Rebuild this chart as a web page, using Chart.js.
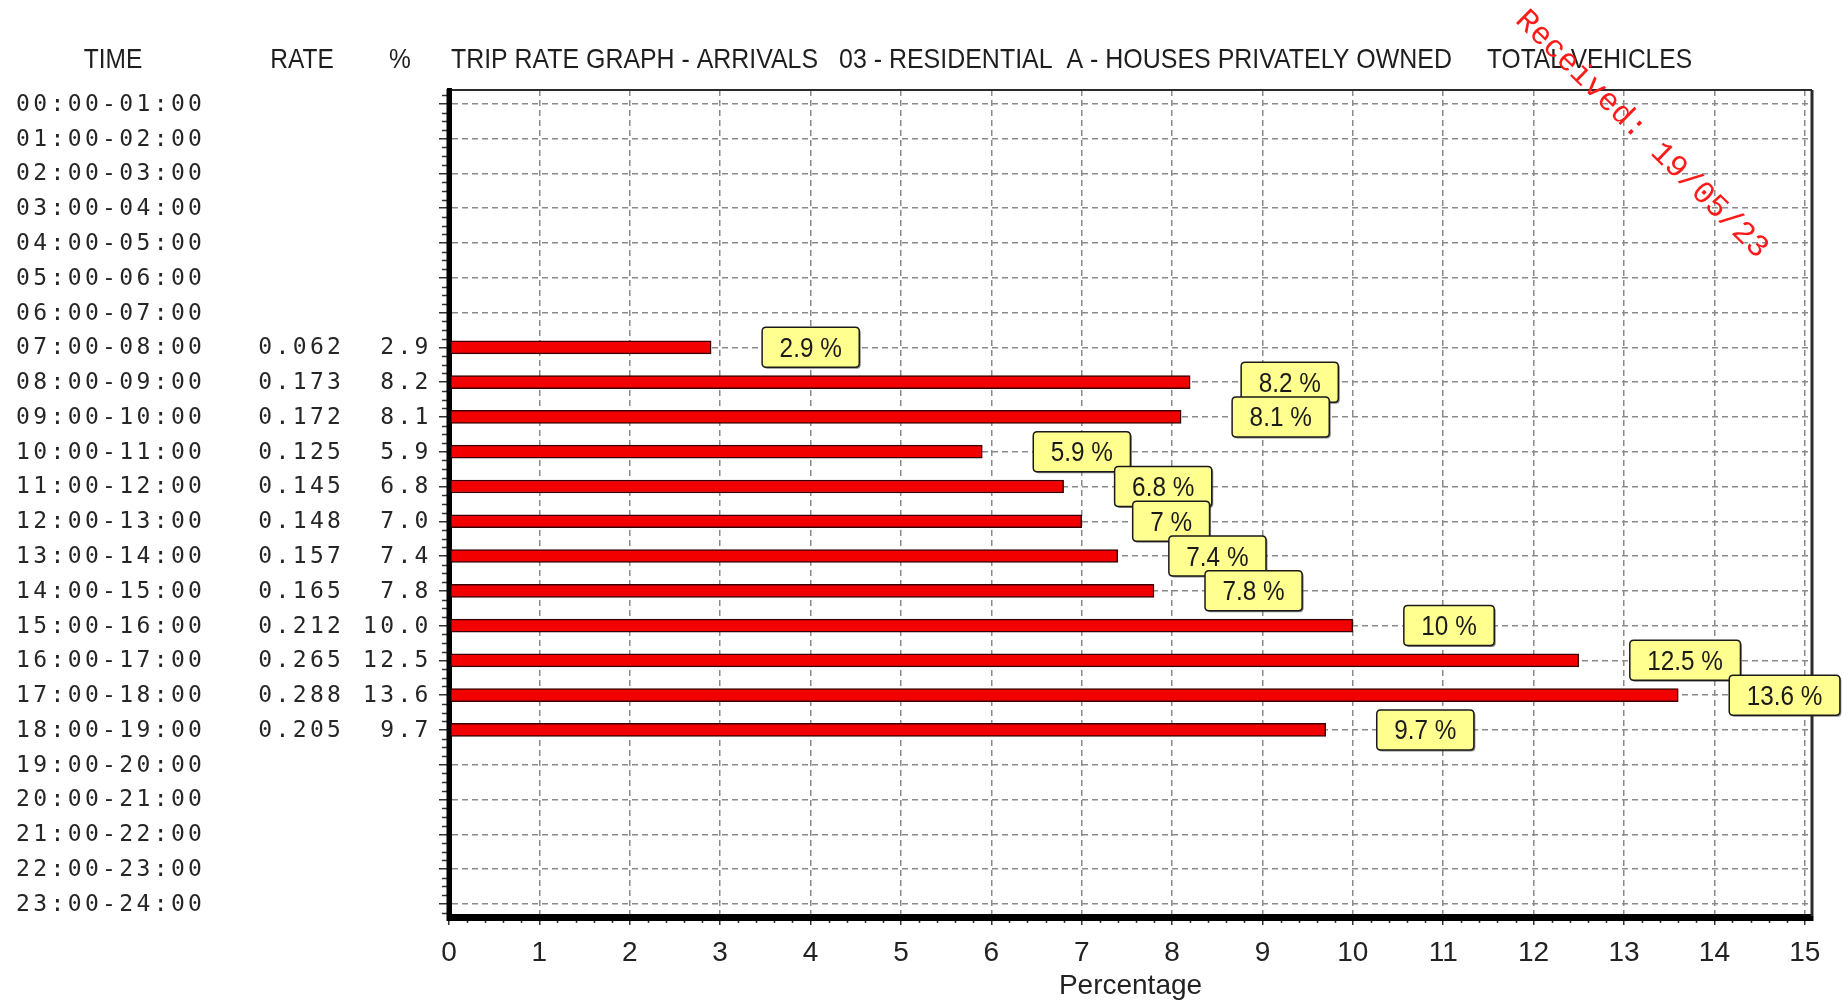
<!DOCTYPE html>
<html>
<head>
<meta charset="utf-8">
<title>Trip rate graph - arrivals</title>
<script src="https://cdn.jsdelivr.net/npm/chart.js@4/dist/chart.umd.min.js"></script>
<style>
  html, body { margin: 0; padding: 0; background: #fff; }
  canvas { display: block; }
</style>
</head>
<body>
<canvas id="chart" width="1848" height="1004"></canvas>
<script>
// Hourly time bands, one row each
const timeLabels = [
  '00:00-01:00', '01:00-02:00', '02:00-03:00', '03:00-04:00', '04:00-05:00', '05:00-06:00',
  '06:00-07:00', '07:00-08:00', '08:00-09:00', '09:00-10:00', '10:00-11:00', '11:00-12:00',
  '12:00-13:00', '13:00-14:00', '14:00-15:00', '15:00-16:00', '16:00-17:00', '17:00-18:00',
  '18:00-19:00', '19:00-20:00', '20:00-21:00', '21:00-22:00', '22:00-23:00', '23:00-24:00'
];

// Trip rate per band (null = not surveyed)
const rates = [
  null, null, null, null, null, null, null,
  0.062, 0.173, 0.172, 0.125, 0.145, 0.148, 0.157, 0.165, 0.212, 0.265, 0.288, 0.205,
  null, null, null, null, null
];

// Share of daily arrivals per band, %
const percents = [
  null, null, null, null, null, null, null,
  2.9, 8.2, 8.1, 5.9, 6.8, 7.0, 7.4, 7.8, 10.0, 12.5, 13.6, 9.7,
  null, null, null, null, null
];

// Percentage axis tick values
const percentTicks = [0, 1, 2, 3, 4, 5, 6, 7, 8, 9, 10, 11, 12, 13, 14, 15];

const titleParts = [
  'TRIP RATE GRAPH - ARRIVALS',
  '03 - RESIDENTIAL  A - HOUSES PRIVATELY OWNED',
  'TOTAL VEHICLES'
];
const columnHeads = ['TIME', 'RATE', '%'];
const axisTitle = 'Percentage';
const stampText = 'Received: 19/05/23';

// Bar points: one {x, y} per surveyed band, y being the row index
const barPoints = [];
percents.forEach((p, i) => { if (p !== null) barPoints.push({ x: p, y: i }); });

const SANS = '"Liberation Sans", Arial, sans-serif';
const NARROW = '"Liberation Sans Narrow", "Arial Narrow", "Liberation Sans", Arial, sans-serif';
const MONO = '"DejaVu Sans Mono", "Liberation Mono", monospace';
const MONO_ADVANCE = 17.2;

// Text squeezed horizontally into [x0, x1]
function fitText(ctx, text, x0, x1, y) {
  const w = ctx.measureText(text).width;
  ctx.save();
  ctx.translate(x0, y);
  ctx.scale((x1 - x0) / w, 1);
  ctx.textAlign = 'left';
  ctx.fillText(text, 0, 0);
  ctx.restore();
}

// Fixed-pitch text drawn character by character; x is the first character's centre
function monoText(ctx, text, x, y) {
  ctx.textAlign = 'center';
  for (let k = 0; k < text.length; k++) {
    ctx.fillText(text[k], x + k * MONO_ADVANCE, y);
  }
}

function roundRect(ctx, x, y, w, h, r) {
  ctx.beginPath();
  ctx.moveTo(x + r, y);
  ctx.lineTo(x + w - r, y);
  ctx.quadraticCurveTo(x + w, y, x + w, y + r);
  ctx.lineTo(x + w, y + h - r);
  ctx.quadraticCurveTo(x + w, y + h, x + w - r, y + h);
  ctx.lineTo(x + r, y + h);
  ctx.quadraticCurveTo(x, y + h, x, y + h - r);
  ctx.lineTo(x, y + r);
  ctx.quadraticCurveTo(x, y, x + r, y);
  ctx.closePath();
}

const tablePlugin = {
  id: 'tripTable',
  beforeDatasetsDraw(chart) {
    const { ctx, chartArea: a, scales } = chart;
    const xs = scales.x, ys = scales.y;
    ctx.save();
    // frame: top and right edges
    ctx.strokeStyle = '#2a2a2a';
    ctx.lineWidth = 2;
    ctx.beginPath();
    ctx.moveTo(a.left, a.top);
    ctx.lineTo(a.right, a.top);
    ctx.stroke();
    ctx.lineWidth = 3;
    ctx.beginPath();
    ctx.moveTo(a.right, a.top);
    ctx.lineTo(a.right, a.bottom);
    ctx.stroke();

    // minor tick marks
    ctx.strokeStyle = '#333';
    ctx.lineWidth = 1.5;
    ctx.beginPath();
    for (let v = -0.25; v <= 23.3; v += 0.25) {
      if (Math.abs(v - Math.round(v)) < 1e-6) continue;
      const y = Math.round(ys.getPixelForValue(v)) + 0.5;
      ctx.moveTo(a.left - 7, y);
      ctx.lineTo(a.left - 2, y);
    }
    for (let v = 0.2; v < 15.01; v += 0.2) {
      if (Math.abs(v - Math.round(v)) < 1e-6) continue;
      const x = Math.round(xs.getPixelForValue(v)) + 0.5;
      ctx.moveTo(x, a.bottom + 2);
      ctx.lineTo(x, a.bottom + 7);
    }
    ctx.stroke();

    // headings
    ctx.fillStyle = '#1e1e1e';
    ctx.textBaseline = 'alphabetic';
    ctx.font = '28.5px ' + SANS;
    const base = 67.5;
    fitText(ctx, titleParts[0], 451, 818, base);
    fitText(ctx, titleParts[1], 839, 1452, base);
    fitText(ctx, titleParts[2], 1487, 1692, base);
    const headCentres = [113, 302, 400];
    columnHeads.forEach((h, i) => {
      const w = ctx.measureText(h).width * 0.86;
      fitText(ctx, h, headCentres[i] - w / 2, headCentres[i] + w / 2, base);
    });

    // row table: time band, rate, percentage
    ctx.font = '23px ' + MONO;
    ctx.fillStyle = '#262626';
    ctx.textBaseline = 'middle';
    timeLabels.forEach((t, i) => {
      const y = ys.getPixelForValue(i) + 1;
      monoText(ctx, t, 23, y);
      if (rates[i] !== null) {
        const r = rates[i].toFixed(3);
        monoText(ctx, r, 334 - (r.length - 1) * MONO_ADVANCE, y);
      }
      if (percents[i] !== null) {
        const p = percents[i].toFixed(1);
        monoText(ctx, p, 421.5 - (p.length - 1) * MONO_ADVANCE, y);
      }
    });
    ctx.restore();
  },
  afterDatasetsDraw(chart) {
    const { ctx, chartArea: a } = chart;
    ctx.save();
    // thick axes over the bar roots
    ctx.strokeStyle = '#000';
    ctx.lineWidth = 5;
    ctx.beginPath();
    ctx.moveTo(a.left, a.top - 1);
    ctx.lineTo(a.left, a.bottom + 2.5);
    ctx.lineTo(a.right + 1.5, a.bottom + 2.5);
    ctx.stroke();

    // value call-outs
    const meta = chart.getDatasetMeta(0);
    const data = chart.data.datasets[0].data;
    ctx.font = '27px ' + SANS;
    meta.data.forEach((bar, i) => {
      const v = data[i].x;
      const txt = (+v.toFixed(1)) + ' %';
      const sx = 0.9;
      const tw = ctx.measureText(txt).width * sx;
      const bw = tw + 35, bh = 40;
      const bx = bar.x + 51, by = bar.y - bh / 2;
      ctx.fillStyle = 'rgba(40,40,40,0.55)';
      roundRect(ctx, bx + 1.5, by + 1.5, bw, bh, 4);
      ctx.fill();
      ctx.fillStyle = '#ffff8f';
      roundRect(ctx, bx, by, bw, bh, 4);
      ctx.fill();
      ctx.strokeStyle = '#1a1a1a';
      ctx.lineWidth = 1.5;
      ctx.stroke();
      ctx.fillStyle = '#1a1a1a';
      ctx.textBaseline = 'alphabetic';
      ctx.save();
      ctx.translate(bx + bw / 2, bar.y + 9.5);
      ctx.scale(sx, 1);
      ctx.textAlign = 'center';
      ctx.fillText(txt, 0, 0);
      ctx.restore();
    });
    ctx.restore();
  },
  afterDraw(chart) {
    const { ctx } = chart;
    ctx.save();
    ctx.translate(1527, 22);
    ctx.rotate(Math.atan2(225, 230));
    ctx.font = '31.5px "Liberation Mono", "Courier New", monospace';
    ctx.fillStyle = '#ff1a1a';
    ctx.textBaseline = 'middle';
    ctx.textAlign = 'left';
    ctx.fillText(stampText, -9.5, 0);
    ctx.restore();
  }
};

const gridStyle = {
  color: '#8a8a8a',
  lineWidth: 1.5,
  drawTicks: true,
  tickColor: '#333',
  tickWidth: 1.5,
  offset: false
};

new Chart(document.getElementById('chart'), {
  type: 'bar',
  data: {
    datasets: [{
      data: barPoints,
      backgroundColor: '#f20000',
      borderColor: '#3a0000',
      borderWidth: 1.5,
      borderSkipped: false,
      barThickness: 13
    }]
  },
  options: {
    responsive: false,
    animation: false,
    indexAxis: 'y',
    layout: { padding: { left: 439, right: 36, top: 90, bottom: 0 } },
    plugins: {
      legend: { display: false },
      tooltip: { enabled: false },
      title: { display: false }
    },
    scales: {
      x: {
        type: 'linear',
        position: 'bottom',
        min: 0,
        max: 15.08,
        bounds: 'data',
        afterBuildTicks: s => { s.ticks = percentTicks.map(v => ({ value: v })); },
        afterFit: s => { s.height = 88; },
        grid: Object.assign({}, gridStyle, { tickLength: 9 }),
        border: { display: true, color: '#000', width: 5, dash: [6, 4] },
        ticks: {
          autoSkip: false,
          maxRotation: 0,
          padding: 11,
          color: '#222',
          font: { family: NARROW, size: 28 },
          callback: v => String(v)
        },
        title: {
          display: true,
          text: axisTitle,
          color: '#222',
          font: { family: NARROW, size: 28 },
          padding: { top: 0, bottom: 1 }
        }
      },
      y: {
        type: 'linear',
        position: 'left',
        reverse: true,
        offset: false,
        min: -0.40,
        max: 23.35,
        bounds: 'data',
        afterBuildTicks: s => { s.ticks = timeLabels.map((_, i) => ({ value: i })); },
        afterFit: s => { s.width = 10; },
        grid: Object.assign({}, gridStyle, { tickLength: 10 }),
        border: { display: true, color: '#000', width: 5, dash: [6, 4] },
        ticks: { display: false }
      }
    }
  },
  plugins: [tablePlugin]
});
</script>
</body>
</html>
